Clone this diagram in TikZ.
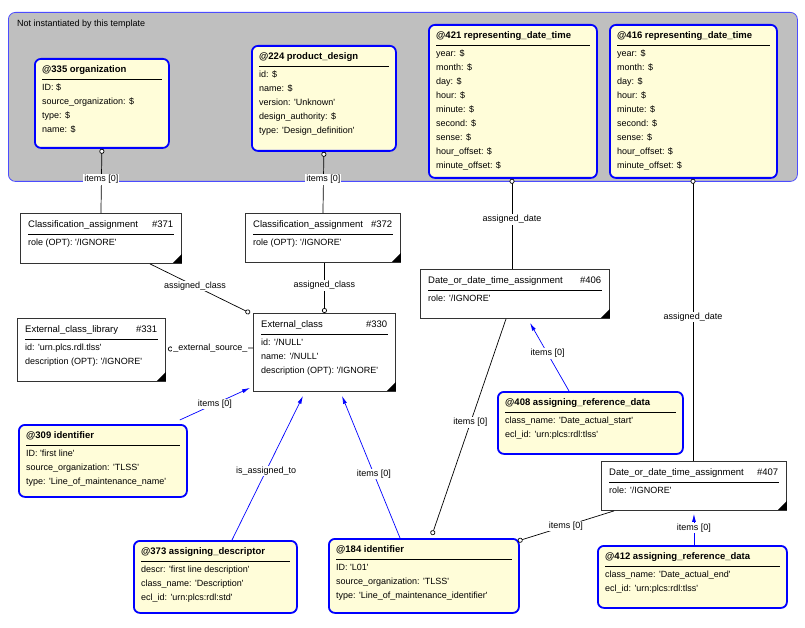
\documentclass[tikz,border=0pt]{standalone}
\usepackage{fontspec}
\setmainfont{Liberation Sans}[Ligatures=TeXOff]
\usetikzlibrary{calc,arrows.meta}
\newcommand\ebox[8]{%
  \node[#2, minimum width=#5pt, minimum height=#6pt, anchor=north west] (#1) at (#3,#4) {};
  \node[anchor=north west, inner sep=0, font=\fontsize{9.5}{14}\selectfont] at ($(#1.north west)+(8,7)$) {\makebox[\dimexpr#5pt-16pt\relax][l]{#7}};
  \draw[line width=0.8pt] ($(#1.north west)+(8,21)$) -- ($(#1.north east)+(-8,21)$);
  \node[anchor=north west, align=left, inner sep=0, font=\fontsize{9}{14}\selectfont] at ($(#1.north west)+(8,26)$) {#8};
}
\newcommand\tri[1]{\fill ($(#1.south east)+(0,-1)$) -- ++(-9,0) -- ++(9,-9) -- cycle;}
\begin{document}
\begin{tikzpicture}[x=1pt,y=-1pt,
  ent/.style={draw=blue, line width=1.8pt, rounded corners=6pt, fill=yellow!15},
  cls/.style={draw=black!80, line width=0.9pt, fill=white},
  con/.style={draw=black, line width=0.7pt},
  circ/.style={con, -{Circle[open,length=5pt,fill=white]}},
  blu/.style={draw=blue, line width=0.7pt, -{Latex[length=8pt,width=4pt]}},
  lab/.style={fill=white, inner sep=1pt, font=\fontsize{9}{10}\selectfont}]
\useasboundingbox (0,0) rectangle (805,628);
\fill[white] (0,0) rectangle (805,628);
\node[draw=blue!70, fill=black!25, line width=0.8pt, rounded corners=7pt, minimum width=789pt, minimum height=169pt, anchor=north west] (grp) at (8,12) {};
\node[anchor=north west, inner sep=0, font=\fontsize{9}{10}\selectfont] (grpt) at (17,20) {Not instantiated by this template};

\ebox{org}{ent}{34}{58}{134}{89}{\textbf{@335 organization}}{ID: \$\\source\_organization: \$\\type: \$\\name: \$}
\ebox{prod}{ent}{251}{45}{144}{105}{\textbf{@224 product\_design}}{id: \$\\name: \$\\version: 'Unknown'\\design\_authority: \$\\type: 'Design\_definition'}
\ebox{dtA}{ent}{428}{24}{168}{153}{\textbf{@421 representing\_date\_time}}{year: \$\\month: \$\\day: \$\\hour: \$\\minute: \$\\second: \$\\sense: \$\\hour\_offset: \$\\minute\_offset: \$}
\ebox{dtB}{ent}{609}{24}{167}{153}{\textbf{@416 representing\_date\_time}}{year: \$\\month: \$\\day: \$\\hour: \$\\minute: \$\\second: \$\\sense: \$\\hour\_offset: \$\\minute\_offset: \$}

\ebox{ca1}{cls}{20}{213}{161}{50}{Classification\_assignment\hfill\#371}{role (OPT): '/IGNORE'}
\ebox{ca2}{cls}{245}{213}{155}{49}{Classification\_assignment\hfill\#372}{role (OPT): '/IGNORE'}
\ebox{lib}{cls}{17}{318}{148}{63}{External\_class\_library\hfill\#331}{id: 'urn.plcs.rdl.tlss'\\description (OPT): '/IGNORE'}
\ebox{ec}{cls}{253}{313}{142}{78}{External\_class\hfill\#330}{id: '/NULL'\\name: '/NULL'\\description (OPT): '/IGNORE'}
\ebox{da1}{cls}{420}{269}{189}{49}{Date\_or\_date\_time\_assignment\hfill\#406}{role: '/IGNORE'}
\ebox{da2}{cls}{601}{461}{185}{49}{Date\_or\_date\_time\_assignment\hfill\#407}{role: '/IGNORE'}
\tri{ca1}\tri{ca2}\tri{lib}\tri{ec}\tri{da1}\tri{da2}

\ebox{id309}{ent}{18}{424}{168}{72}{\textbf{@309 identifier}}{ID: 'first line'\\source\_organization: 'TLSS'\\type: 'Line\_of\_maintenance\_name'}
\ebox{ad}{ent}{133}{540}{163}{72}{\textbf{@373 assigning\_descriptor}}{descr: 'first line description'\\class\_name: 'Description'\\ecl\_id: 'urn:plcs:rdl:std'}
\ebox{id184}{ent}{328}{538}{190}{74}{\textbf{@184 identifier}}{ID: 'L01'\\source\_organization: 'TLSS'\\type: 'Line\_of\_maintenance\_identifier'}
\ebox{ard1}{ent}{497}{391}{185}{62}{\textbf{@408 assigning\_reference\_data}}{class\_name: 'Date\_actual\_start'\\ecl\_id: 'urn:plcs:rdl:tlss'}
\ebox{ard2}{ent}{597}{545}{189}{62}{\textbf{@412 assigning\_reference\_data}}{class\_name: 'Date\_actual\_end'\\ecl\_id: 'urn:plcs:rdl:tlss'}

% connectors
\draw[con, {Circle[open,length=5pt,fill=white]}-] (org.south) -- node[lab,pos=0.48]{items [0]} (ca1.north);
\draw[con, {Circle[open,length=5pt,fill=white]}-] (prod.south) -- node[lab,pos=0.45]{items [0]} (ca2.north);
\draw[circ] ($(ca1.south west)+(130,0)$) -- node[lab,pos=0.45]{assigned\_class} ($(ec.north west)+(-3,0)$);
\draw[circ] (ca2.south -| ec.north) -- node[lab,pos=0.45]{assigned\_class} (ec.north);
\draw[circ] ($(ec.north west)+(0,35)$) -- node[lab,pos=0.5]{\_external\_source\_} ($(lib.north east)+(2,31)$);
\draw[blu] ($(id309.north east)+(-8,-4)$) -- node[lab,pos=0.5]{items [0]} ($(ec.south west)+(-3,-4)$);
\draw[blu] ($(ad.north west)+(99,0)$) -- node[lab,pos=0.48]{is\_assigned\_to} ($(ec.south west)+(50,4)$);
\draw[blu] ($(id184.north west)+(72,0)$) -- node[lab,pos=0.45]{items [0]} ($(ec.south west)+(89,4)$);
\draw[con, {Circle[open,length=5pt,fill=white]}-] ($(dtA.south west)+(84,0)$) -- node[lab,pos=0.45]{assigned\_date} ($(da1.north west)+(92,0)$);
\draw[con, {Circle[open,length=5pt,fill=white]}-] ($(dtB.south west)+(84,0)$) -- node[lab,pos=0.49]{assigned\_date} ($(da2.north west)+(92,0)$);
\draw[circ] ($(da1.south west)+(86,0)$) -- node[lab,pos=0.48]{items [0]} ($(id184.north west)+(104,-3)$);
\draw[blu] ($(ard1.north west)+(72,0)$) -- node[lab,pos=0.55]{items [0]} ($(da1.south west)+(110,4)$);
\draw[circ] ($(da2.south west)+(13,0)$) -- node[lab,pos=0.5]{items [0]} ($(id184.north east)+(-2,3)$);
\draw[blu] (ard2.north -| da2.south) -- node[lab,pos=0.55]{items [0]} ($(da2.south)+(0,3)$);
\end{tikzpicture}
\end{document}
